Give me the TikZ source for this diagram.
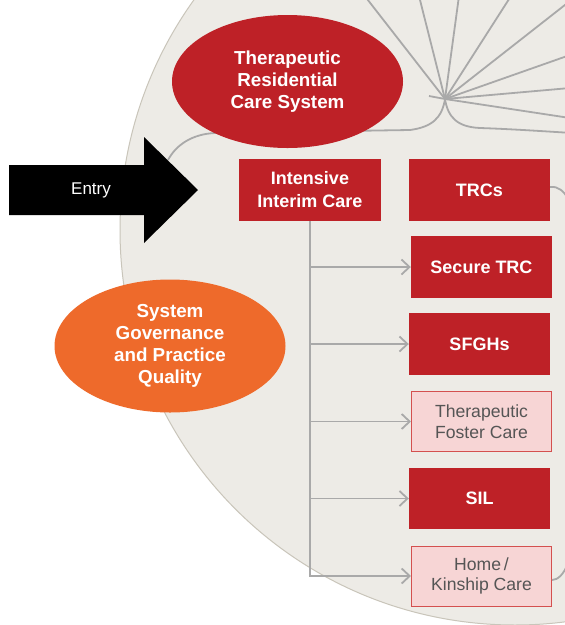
\documentclass[tikz,border=0pt]{standalone}
\usepackage{fontspec}
\setmainfont{Liberation Sans}
\usetikzlibrary{shapes.geometric,arrows.meta}
\definecolor{bgfill}{HTML}{EDEBE6}
\definecolor{bgline}{HTML}{C9C5BA}
\definecolor{trcred}{HTML}{BE2127}
\definecolor{pinkfill}{HTML}{F7D5D5}
\definecolor{pinkline}{HTML}{D4504F}
\definecolor{govorange}{HTML}{EE6A2B}
\definecolor{linkgray}{HTML}{A9A9A9}
\definecolor{softtext}{HTML}{555555}
\tikzset{
  bigoval/.style={ellipse, minimum width=231pt, minimum height=133pt, inner sep=0pt,
    text=white, align=center, font=\fontsize{18.8}{22}\selectfont\bfseries},
  redbox/.style={rectangle, fill=trcred, minimum width=141pt, minimum height=62pt,
    inner sep=0pt, text=white, align=center, font=\fontsize{18}{23}\selectfont\bfseries},
  pinkbox/.style={rectangle, fill=pinkfill, draw=pinkline, line width=1pt,
    minimum width=140pt, minimum height=60pt, inner sep=0pt, text=softtext,
    align=center, font=\fontsize{17.6}{20.5}\selectfont},
  link/.style={draw=linkgray, line width=1.8pt},
  flow/.style={link, -{Straight Barb[length=8pt,width=15pt,line width=1.8pt]}},
}
\begin{document}
\begin{tikzpicture}[x=1pt,y=-1pt]
\useasboundingbox (0,0) rectangle (565,625);
\clip (0,0) rectangle (565,625);
\fill[white] (0,0) rectangle (565,625);
% big system circle
\filldraw[fill=bgfill, draw=bgline, line width=1pt] (515,230) circle[radius=395pt];

% hub and radiating links
\coordinate (hub) at (445,99);
\coordinate (r1) at (364,-5);
\coordinate (r2) at (419,-4);
\coordinate (r3) at (459,-4);
\coordinate (r4) at (511,-4);
\coordinate (r5) at (570,1);
\coordinate (r6) at (570,55);
\coordinate (r7) at (570,88);
\coordinate (r8) at (570,118);
\coordinate (stub) at (429,96);
\foreach \r in {r1,r2,r3,r4,r5,r6,r7,r8,stub} \draw[link] (hub) -- (\r);
\coordinate (entryend) at (168,160);
\coordinate (rightout) at (572,133);
\draw[link] (hub) .. controls (442,118) and (432,127) .. (410,130)
  -- (215,133) .. controls (192,134) and (176,145) .. (entryend);
\draw[link] (hub) .. controls (448,118) and (458,127) .. (480,128)
  .. controls (510,129) and (540,131) .. (rightout);

% ovals
\node[bigoval, fill=trcred] (trcs-sys) at (287.5,81.5)
  {Therapeutic\\Residential\\Care System};
\node[bigoval, fill=govorange] (gov) at (170,346)
  {System\\Governance\\and Practice\\Quality};

% boxes
\node[redbox, minimum width=142pt] (iic) at (310,190) {Intensive\\Interim Care};
\node[redbox] (trc) at (479.5,190) {TRCs};
\node[redbox] (secure) at (481.5,267) {Secure TRC};
\node[redbox] (sfgh) at (479.5,344) {SFGHs};
\node[pinkbox] (tfc) at (481.5,421.5) {Therapeutic\\Foster Care};
\node[redbox, minimum height=61pt] (sil) at (479.5,498.5) {SIL};
\node[pinkbox] (home) at (481.5,576) {Home\,/\\Kinship Care};

% flows from Intensive Interim Care
\draw[flow] (iic.south) |- (home.west);
\foreach \b in {secure,sfgh,tfc,sil} \draw[flow] (iic.south |- \b.west) -- (\b.west);

% loop ends leaving the picture
\coordinate (trcout) at (568,199);
\coordinate (homeout) at (568,563);
\draw[link] (trc.east |- 0,187) .. controls (558,186) and (564,191) .. (trcout);
\draw[link] (home.east |- 0,580) .. controls (558,580) and (564,574) .. (homeout);

% entry arrow
\fill[black] (9,165) -- (144,165) -- (144,137) -- (198,190) -- (144,243) -- (144,215) -- (9,215) -- cycle;
\node[text=white, font=\fontsize{17}{19}\selectfont] (entry) at (91,190) {Entry};
\end{tikzpicture}
\end{document}
